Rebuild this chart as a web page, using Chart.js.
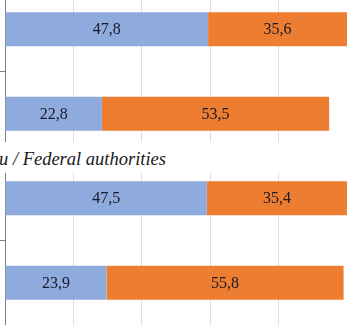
<!DOCTYPE html>
<html>
<head>
<meta charset="utf-8">
<script src="https://cdn.jsdelivr.net/npm/chart.js@4.4.1/dist/chart.umd.min.js"></script>
<style>
    html, body { margin: 0; padding: 0; background: #fff; }
    body { width: 347px; height: 326px; overflow: hidden; position: relative; }
    .panel { position: absolute; left: 0; width: 347px; overflow: hidden; }
    .panel canvas { position: absolute; left: 0; }
    #topPanel { top: 0; height: 142px; }
    #topPanel .box { position: absolute; left: 0; top: -13px; width: 347px; height: 169px; }
    #bottomPanel { top: 173px; height: 153px; }
    #bottomPanel .box { position: absolute; left: 0; top: -17px; width: 347px; height: 169px; }
    .group-title {
        position: absolute; left: -1px; top: 150px; line-height: 1;
        font-family: 'Liberation Serif', 'Times New Roman', serif;
        font-style: italic; font-size: 18.5px; color: #1a1a1a; white-space: nowrap;
    }
</style>
</head>
<body>
<div class="panel" id="topPanel"><div class="box"><canvas id="topChart"></canvas></div></div>
<div class="group-title">u / Federal authorities</div>
<div class="panel" id="bottomPanel"><div class="box"><canvas id="bottomChart"></canvas></div></div>

<script>
// rows shown in each panel (top -> bottom)
const rows = ['row 1', 'row 2'];

// upper panel
const topBlue = [47.8, 22.8];
const topOrange = [35.6, 53.5];

// lower panel (Federal authorities)
const bottomBlue = [47.5, 23.9];
const bottomOrange = [35.4, 55.8];

// value axis (only gridlines are visible in the crop)
const axisMax = 80.5;
const axisStep = 16.1;

const BLUE = '#8faadc';
const ORANGE = '#ed7d31';
const SERIF = "'Liberation Serif', 'Times New Roman', serif";

// writes the value in the middle of the visible part of each bar
const barLabels = {
    id: 'barLabels',
    afterDatasetsDraw(chart) {
        const ctx = chart.ctx;
        const area = chart.chartArea;
        ctx.save();
        ctx.font = '16px ' + SERIF;
        ctx.fillStyle = '#1a1a2a';
        ctx.textAlign = 'center';
        ctx.textBaseline = 'middle';
        chart.data.datasets.forEach((ds, i) => {
            chart.getDatasetMeta(i).data.forEach((bar, j) => {
                const p = bar.getProps(['x', 'y', 'base'], true);
                const left = Math.max(Math.min(p.x, p.base), area.left);
                const right = Math.min(Math.max(p.x, p.base), area.right);
                const txt = ds.data[j].toFixed(1).replace('.', ',');
                ctx.fillText(txt, (left + right) / 2, p.y + 1);
            });
        });
        ctx.restore();
    }
};

function makePanel(id, blue, orange) {
    const ctx = document.getElementById(id).getContext('2d');
    return new Chart(ctx, {
        type: 'bar',
        data: {
            labels: rows,
            datasets: [
                { label: 'blue', data: blue, backgroundColor: BLUE, barPercentage: 0.4, categoryPercentage: 1 },
                { label: 'orange', data: orange, backgroundColor: ORANGE, barPercentage: 0.4, categoryPercentage: 1 }
            ]
        },
        options: {
            indexAxis: 'y',
            responsive: true,
            maintainAspectRatio: false,
            animation: false,
            layout: { padding: 0 },
            scales: {
                x: {
                    stacked: true,
                    min: 0,
                    max: axisMax,
                    ticks: { display: false, stepSize: axisStep },
                    grid: { color: '#dedede', lineWidth: 1, drawTicks: false },
                    border: { display: false }
                },
                y: {
                    stacked: true,
                    ticks: { display: false },
                    grid: { drawOnChartArea: false, drawTicks: true, tickLength: 5, color: '#7f7f7f', offset: true },
                    border: { display: true, color: '#7f7f7f', width: 1 }
                }
            },
            plugins: {
                legend: { display: false },
                tooltip: { enabled: false }
            }
        },
        plugins: [barLabels]
    });
}

makePanel('topChart', topBlue, topOrange);
makePanel('bottomChart', bottomBlue, bottomOrange);
</script>
</body>
</html>
